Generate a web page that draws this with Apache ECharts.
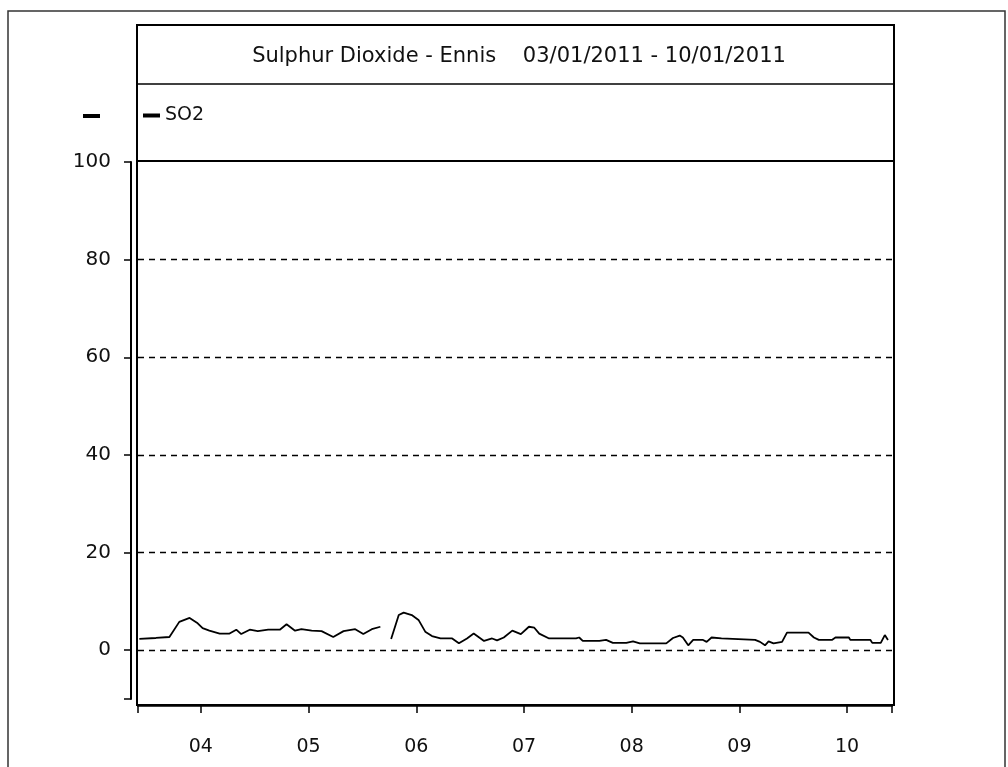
<!DOCTYPE html>
<html>
<head>
<meta charset="utf-8">
<title>Sulphur Dioxide - Ennis</title>
<script src="https://cdn.jsdelivr.net/npm/echarts@6/dist/echarts.min.js"></script>
<style>
    html, body {margin: 0; padding: 0; background: #fff;}
    #chartBox {width: 1008px; height: 767px;}
</style>
</head>
<body>
<div id="chartBox"></div>
<script>
// hours counted from 03/01/2011 00:00
var hours = [10.3, 14, 17, 19.2, 21.5, 23.3, 24.4, 25.9, 28.2, 30.4, 31.9, 33.0, 34.9, 36.7, 39, 41.6, 43.1, 45, 46.4, 48.7,
    50.9, 53.5, 55.8, 58.4, 60.2, 62.1, 64, 65.2,
    66.4, 68.1, 69.2, 71.0, 72.5, 74, 75.5, 77.4, 80, 81.5, 83.3, 84.8, 87.1, 88.9, 90, 91.5, 93.4, 95.3, 97.1, 98.3,
    99.4, 101.6, 107.6, 108.3, 109.1, 112.8, 114.3, 115.8, 118.8, 120.3, 121.8, 127.7, 129.2, 130.7, 131.4, 132.6,
    133.7, 135.9, 136.7, 137.8, 140, 140.4, 147.5, 148.6, 149.7, 150.5, 151.6, 153.5, 154.6, 159.4, 160.6, 161.7,
    164.6, 165.4, 168.4, 168.7, 173.2, 173.6, 175.5, 176.4, 177.1];
var so2 = [2.3, 2.5, 2.7, 5.8, 6.6, 5.5, 4.5, 4.0, 3.4, 3.4, 4.2, 3.3, 4.2, 3.9, 4.2, 4.2, 5.3, 4.0, 4.3, 4.0,
    3.9, 2.7, 3.9, 4.3, 3.3, 4.3, 4.8, null,
    2.3, 7.2, 7.7, 7.2, 6.2, 3.8, 2.9, 2.4, 2.4, 1.4, 2.4, 3.4, 1.9, 2.4, 2.0, 2.6, 4.0, 3.3, 4.8, 4.6,
    3.4, 2.4, 2.4, 2.6, 1.9, 1.9, 2.1, 1.5, 1.5, 1.8, 1.4, 1.4, 2.5, 3.0, 2.6, 1.0,
    2.1, 2.1, 1.7, 2.6, 2.4, 2.1, 2.1, 1.7, 1.0, 1.8, 1.4, 1.7, 3.6, 3.6, 2.6, 2.1,
    2.1, 2.6, 2.6, 2.1, 2.1, 1.5, 1.5, 3.1, 2.1];
var dayTicks = [24, 48, 72, 96, 120, 144, 168];
var dayLabels = ['04', '05', '06', '07', '08', '09', '10'];
var yTicks = [-10, 0, 20, 40, 60, 80, 100];
var yLabels = [0, 20, 40, 60, 80, 100];
var gridLevels = [0, 20, 40, 60, 80];

var xMin = 10, xMax = 178;
var font = 'DejaVu Sans';

var myChart1 = echarts.init(document.getElementById('chartBox'));

var seriesData = [];
for (var i = 0; i < hours.length; i++) {
    seriesData.push([hours[i], so2[i] === null ? '-' : so2[i]]);
}
var markData = [];
for (var k = 0; k < gridLevels.length; k++) {
    markData.push({yAxis: gridLevels[k]});
}

var option = {
    backgroundColor: '#fff',
    animation: false,
    title: {
        text: 'Sulphur Dioxide - Ennis    03/01/2011 - 10/01/2011',
        left: 514,
        textAlign: 'center',
        top: 41,
        textStyle: {fontFamily: font, fontSize: 21, fontWeight: 'normal', color: '#111'}
    },
    legend: {
        left: 143,
        top: 106,
        padding: 0,
        icon: 'rect',
        itemWidth: 17,
        itemHeight: 4,
        itemGap: 5,
        textStyle: {fontFamily: font, fontSize: 19, color: '#111'},
        data: ['SO2']
    },
    grid: {left: 138, right: 116, top: 162, bottom: 68},
    xAxis: {
        type: 'value',
        min: xMin,
        max: xMax,
        offset: 6,
        axisLine: {show: true, onZero: false, lineStyle: {color: '#000', width: 2.5}},
        axisTick: {
            show: true,
            length: 8,
            customValues: [xMin].concat(dayTicks).concat([xMax]),
            lineStyle: {color: '#000', width: 1.5}
        },
        axisLabel: {
            customValues: dayTicks,
            margin: 33,
            fontFamily: font,
            fontSize: 19,
            color: '#111',
            formatter: function (v) {
                var idx = dayTicks.indexOf(v);
                return idx >= 0 ? dayLabels[idx] : '';
            }
        },
        splitLine: {show: false}
    },
    yAxis: {
        type: 'value',
        min: -10,
        max: 100,
        offset: 7,
        axisLine: {show: true, onZero: false, lineStyle: {color: '#000', width: 2}},
        axisTick: {
            show: true,
            length: 7,
            customValues: yTicks,
            lineStyle: {color: '#000', width: 1.5}
        },
        axisLabel: {
            customValues: yLabels,
            margin: 20,
            fontFamily: font,
            fontSize: 20,
            color: '#111'
        },
        splitLine: {show: false}
    },
    graphic: [
        // outer page frame
        {type: 'rect', shape: {x: 8, y: 11, width: 997, height: 800}, style: {fill: 'none', stroke: '#333', lineWidth: 1.5}, silent: true},
        // title / legend / plot box
        {type: 'rect', shape: {x: 137, y: 25, width: 757, height: 680}, style: {fill: 'none', stroke: '#000', lineWidth: 2}, silent: true},
        {type: 'line', shape: {x1: 137, y1: 84, x2: 894, y2: 84}, style: {stroke: '#000', lineWidth: 1.5}, silent: true},
        {type: 'line', shape: {x1: 137, y1: 161, x2: 894, y2: 161}, style: {stroke: '#000', lineWidth: 2}, silent: true},
        // stray legend swatch left of the box
        {type: 'rect', shape: {x: 83, y: 114, width: 17, height: 4}, style: {fill: '#000'}, silent: true}
    ],
    series: [
        {
            name: 'SO2',
            type: 'line',
            data: seriesData,
            showSymbol: false,
            symbol: 'none',
            connectNulls: false,
            itemStyle: {color: '#000'},
            lineStyle: {color: '#000', width: 1.8},
            markLine: {
                silent: true,
                symbol: 'none',
                label: {show: false},
                lineStyle: {color: '#000', width: 1.3, type: [6, 5]},
                data: markData
            }
        }
    ]
};
myChart1.setOption(option);
</script>
</body>
</html>
